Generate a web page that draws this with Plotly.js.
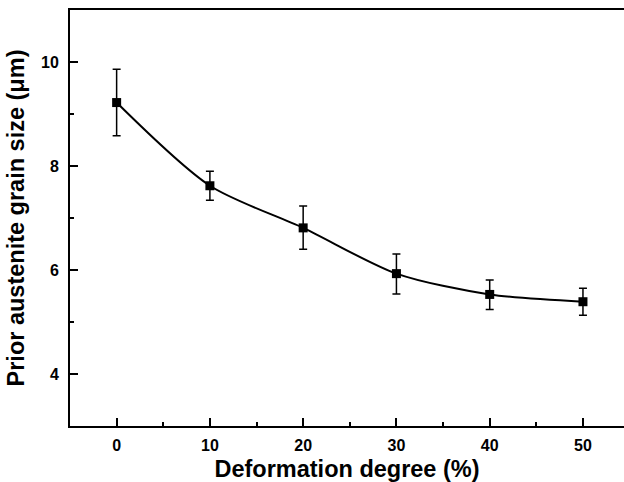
<!DOCTYPE html>
<html>
<head>
<meta charset="utf-8">
<script src="https://cdn.plot.ly/plotly-3.0.1.min.js"></script>
<style>
html,body{margin:0;padding:0;overflow:hidden;background:#fff;}
#chart{width:624px;height:482px;}
</style>
</head>
<body>
<div id="chart"></div>
<script>
// Data
const deformation = [0, 10, 20, 30, 40, 50];
const grainSize   = [9.22, 7.62, 6.81, 5.93, 5.53, 5.39];
const errUpper    = [9.86, 7.90, 7.23, 6.31, 5.81, 5.65];
const errLower    = [8.58, 7.34, 6.40, 5.54, 5.24, 5.13];
const xTickVals   = [0, 10, 20, 30, 40, 50];
const yTickVals   = [4, 6, 8, 10];

const plus  = grainSize.map((v, i) => +(errUpper[i] - v).toFixed(3));
const minus = grainSize.map((v, i) => +(v - errLower[i]).toFixed(3));

const FONT = 'Liberation Sans, Arial, sans-serif';

const trace = {
  x: deformation,
  y: grainSize,
  type: 'scatter',
  mode: 'lines+markers',
  line: {color: '#000', width: 2, shape: 'spline', smoothing: 0.8},
  marker: {symbol: 'square', size: 9, color: '#000'},
  error_y: {
    type: 'data', symmetric: false,
    array: plus, arrayminus: minus,
    color: '#000', thickness: 1.5, width: 4
  },
  showlegend: false,
  hoverinfo: 'x+y'
};

const layout = {
  width: 624, height: 482,
  margin: {l: 70, r: 0, t: 10, b: 56},
  paper_bgcolor: '#fff', plot_bgcolor: '#fff',
  font: {family: FONT, color: '#000'},
  xaxis: {
    range: [-5, 54.4],
    tickvals: xTickVals,
    ticktext: xTickVals.map(v => '<b>' + v + '</b>'),
    ticks: 'inside', ticklen: 8, tickwidth: 2, tickcolor: '#000',
    minor: {dtick: 5, tick0: 5, ticks: 'inside', ticklen: 4, tickwidth: 2, tickcolor: '#000'},
    showline: true, linewidth: 2, linecolor: '#000', mirror: true,
    showgrid: false, zeroline: false,
    tickfont: {family: FONT, size: 16, color: '#000'},
    ticklabelstandoff: 4,
    title: {text: '<b>Deformation degree (%)</b>', font: {family: FONT, size: 23.5, color: '#000'}, standoff: 8}
  },
  yaxis: {
    range: [3, 11],
    tickvals: yTickVals,
    ticktext: yTickVals.map(v => '<b>' + v + '</b>'),
    ticks: 'inside', ticklen: 8, tickwidth: 2, tickcolor: '#000',
    minor: {dtick: 1, tick0: 1, ticks: 'inside', ticklen: 4, tickwidth: 2, tickcolor: '#000'},
    showline: true, linewidth: 2, linecolor: '#000', mirror: false,
    showgrid: false, zeroline: false,
    tickfont: {family: FONT, size: 16, color: '#000'},
    ticklabelstandoff: 6,
    title: {text: '<b>Prior austenite grain size (μm)</b>', font: {family: FONT, size: 23.5, color: '#000'}, standoff: 10}
  }
};

Plotly.newPlot('chart', [trace], layout, {displayModeBar: false, staticPlot: true});
</script>
</body>
</html>
